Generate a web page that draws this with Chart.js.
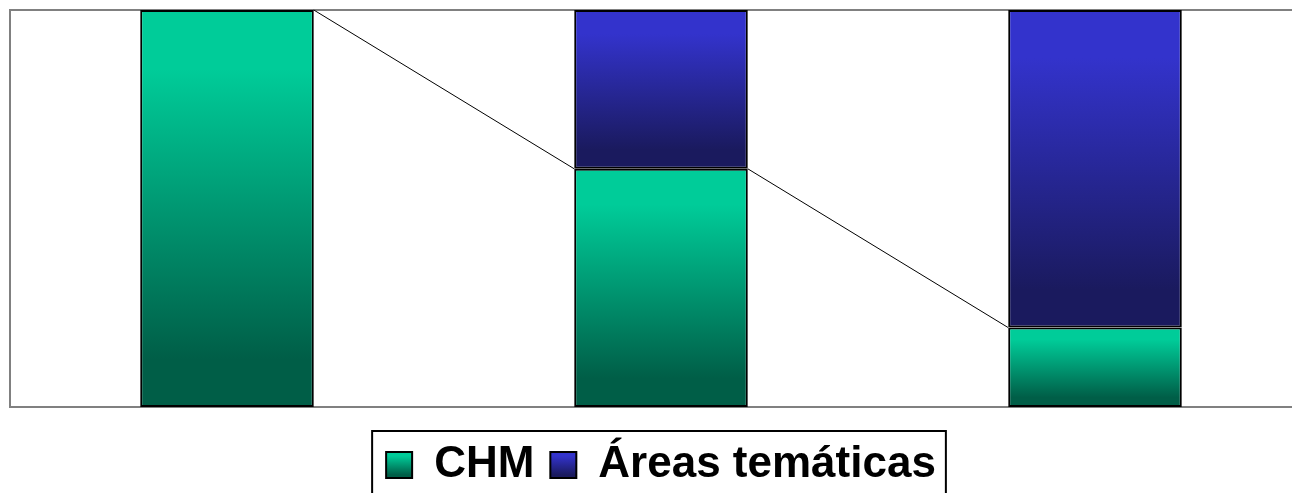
<!DOCTYPE html>
<html>
<head>
<meta charset="utf-8">
<script src="https://cdn.jsdelivr.net/npm/chart.js@4"></script>
<style>
  html, body { margin: 0; padding: 0; background: #fff; }
  #wrap { width: 1292px; height: 493px; overflow: hidden; position: relative; }
  canvas { display: block; }
</style>
</head>
<body>
<div id="wrap">
  <canvas id="myChart" width="1322" height="497"></canvas>
</div>
<script>
// categories (no labels shown on the chart)
const categories = ['1', '2', '3'];
// percent share of each bar
const chmValues = [100, 60, 20];
const areasValues = [0, 40, 80];
const seriesNames = ['CHM', 'Áreas temáticas'];

const LIGHT = ['#00CC99', '#3333CC'];
const DARK = ['#005E47', '#1A1A5E'];
const allData = [chmValues, areasValues];

// vertical gradient for one segment, light on top, dark at the bottom
const makeGrad = (ctx, top, bottom, ds) => {
  const g = ctx.createLinearGradient(0, top, 0, bottom);
  g.addColorStop(0, LIGHT[ds]);
  g.addColorStop(0.15, LIGHT[ds]);
  g.addColorStop(0.88, DARK[ds]);
  g.addColorStop(1, DARK[ds]);
  return g;
};

const segFill = (c) => {
  const chart = c.chart;
  const ds = c.datasetIndex;
  if (!chart.chartArea || c.type !== 'data') return LIGHT[ds];
  const y = chart.scales.y;
  let base = 0;
  for (let k = 0; k < ds; k++) base += allData[k][c.dataIndex];
  const top = y.getPixelForValue(base + allData[ds][c.dataIndex]);
  const bottom = y.getPixelForValue(base);
  if (bottom - top < 1) return LIGHT[ds];
  return makeGrad(chart.ctx, top, bottom, ds);
};

// plot area frame (grey) drawn under the bars
const plotFrame = {
  id: 'plotFrame',
  beforeDatasetsDraw(chart) {
    const { ctx, chartArea: a } = chart;
    ctx.save();
    ctx.strokeStyle = '#808080';
    ctx.lineWidth = 2;
    ctx.strokeRect(a.left, a.top, a.right - a.left, a.bottom - a.top);
    ctx.restore();
  }
};

// series lines between the tops of the CHM segments
const seriesLines = {
  id: 'seriesLines',
  afterDatasetsDraw(chart) {
    const meta = chart.getDatasetMeta(0);
    const ctx = chart.ctx;
    ctx.save();
    ctx.strokeStyle = '#000';
    ctx.lineWidth = 1;
    for (let i = 0; i < meta.data.length - 1; i++) {
      const a = meta.data[i], b = meta.data[i + 1];
      ctx.beginPath();
      ctx.moveTo(a.x + a.width / 2, a.y);
      ctx.lineTo(b.x - b.width / 2, b.y);
      ctx.stroke();
    }
    ctx.restore();
  }
};

// box around the legend
const legendFrame = {
  id: 'legendFrame',
  afterDraw(chart) {
    const hb = chart.legend && chart.legend.legendHitBoxes;
    if (!hb || !hb.length) return;
    const first = hb[0], last = hb[hb.length - 1];
    const cy = first.top + first.height / 2;
    const ctx = chart.ctx;
    ctx.save();
    ctx.strokeStyle = '#000';
    ctx.lineWidth = 2;
    ctx.strokeRect(first.left - 14, cy - 34, (last.left + last.width + 10) - (first.left - 14), 68);
    ctx.restore();
  }
};

const ctx = document.getElementById('myChart').getContext('2d');
const chart = new Chart(ctx, {
  type: 'bar',
  data: {
    labels: categories,
    datasets: [
      {
        label: seriesNames[0],
        data: chmValues,
        backgroundColor: segFill,
        borderColor: '#000',
        borderWidth: 2,
        borderSkipped: false
      },
      {
        label: seriesNames[1],
        data: areasValues,
        backgroundColor: segFill,
        borderColor: '#000',
        borderWidth: 2,
        borderSkipped: false
      }
    ]
  },
  options: {
    responsive: false,
    animation: false,
    devicePixelRatio: 1,
    layout: { padding: { left: 10, top: 10, right: 10, bottom: 0 } },
    datasets: {
      bar: { categoryPercentage: 1, barPercentage: 0.4 }
    },
    scales: {
      x: { stacked: true, display: false },
      y: { stacked: true, display: false, min: 0, max: 100 }
    },
    plugins: {
      tooltip: { enabled: false },
      legend: {
        position: 'bottom',
        title: { display: true, text: ' ', font: { size: 10 }, padding: 4 },
        labels: {
          boxWidth: 26,
          boxHeight: 26,
          padding: 16,
          color: '#000',
          font: { family: "Arial, 'Liberation Sans', sans-serif", size: 44, weight: 'bold' },
          generateLabels(chart) {
            const area = chart.chartArea;
            return chart.data.datasets.map((d, i) => {
              let fill = LIGHT[i];
              if (area) {
                const top = area.bottom + 20 + 16 + 9;
                fill = makeGrad(chart.ctx, top, top + 26, i);
              }
              return {
                text: d.label,
                fillStyle: fill,
                strokeStyle: '#000',
                lineWidth: 2,
                fontColor: '#000',
                datasetIndex: i,
                hidden: false
              };
            });
          }
        }
      }
    }
  },
  plugins: [plotFrame, seriesLines, legendFrame]
});
chart.update();
</script>
</body>
</html>
